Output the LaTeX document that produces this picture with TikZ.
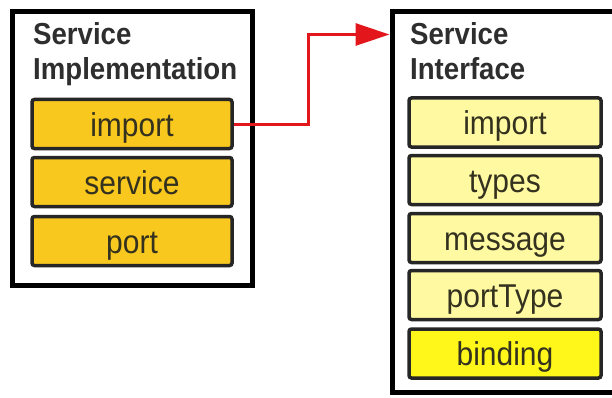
\documentclass[tikz,border=0pt]{standalone}
\usepackage{fontspec}
\usepackage{graphicx}
\setmainfont{Liberation Sans}
\usetikzlibrary{arrows.meta}
\definecolor{implfill}{HTML}{F8C81E}
\definecolor{ifacefill}{HTML}{FFF9A2}
\definecolor{bindfill}{HTML}{FFF71A}
\definecolor{itemtext}{HTML}{34321F}
\definecolor{titletext}{HTML}{2E2E2E}
\definecolor{linkred}{HTML}{E3161B}
% slightly tall lettering
\newcommand{\tallword}[1]{\scalebox{1}[1.1]{#1}}
\tikzset{
  outerbox/.style={draw=black, line width=5pt, fill=white, inner sep=0pt},
  framepart/.style={draw=black, line width=5pt},
  itembox/.style={draw=black!85, line width=3.5pt, rounded corners=2.5pt,
    minimum height=49pt, inner sep=0pt, text=itemtext,
    text height=24pt, text depth=0pt,
    font=\fontsize{30}{30}\selectfont},
  implitem/.style={itembox, fill=implfill, minimum width=200pt},
  ifaceitem/.style={itembox, fill=ifacefill, minimum width=192pt},
  titletxt/.style={anchor=base west, inner sep=0pt, text=titletext,
    font=\bfseries\fontsize{27.6}{28}\selectfont},
  link/.style={draw=linkred, line width=3pt,
    -{Triangle[length=34pt, width=22pt]}}
}
\begin{document}
\begin{tikzpicture}[x=1pt, y=1pt]
\useasboundingbox (0,0) rectangle (612,397);

% Implementation side
\node[outerbox, minimum width=240pt, minimum height=273pt] (lo) at (132,248.5) {};
\node[titletxt] (lt1) at (33,352) {\tallword{Service}};
\node[titletxt] (lt2) at (33,317) {\tallword{Implementation}};
\node[implitem] (imp)  at (132,273) {\tallword{import}};
\node[implitem] (svc)  at (132,215) {\tallword{service}};
\node[implitem] (prt)  at (132,156) {\tallword{port}};

% Interface side: the frame is open on the right, at the page edge
\node[inner sep=0pt, outer sep=2.5pt, minimum width=220pt, minimum height=380pt] (ro) at (502,195) {};
\draw[framepart] (612,385) -- (392,385) -- (392,5) -- (612,5);
\node[titletxt] (rt1) at (410,352) {\tallword{Service}};
\node[titletxt] (rt2) at (410,317) {\tallword{Interface}};
\node[ifaceitem] (iimp) at (505,274.5) {\tallword{import}};
\node[ifaceitem] (ityp) at (505,217)   {\tallword{types}};
\node[ifaceitem] (imsg) at (505,159)   {\tallword{message}};
\node[ifaceitem] (ipt)  at (505,102)   {\tallword{portType}};
\node[itembox, fill=bindfill, minimum width=192pt] (ibind) at (505,43.5) {\tallword{binding}};

% Import reference
\draw[link] (imp.east) -- ++(75,0) |- ([yshift=-25pt]ro.north west);
\end{tikzpicture}
\end{document}
